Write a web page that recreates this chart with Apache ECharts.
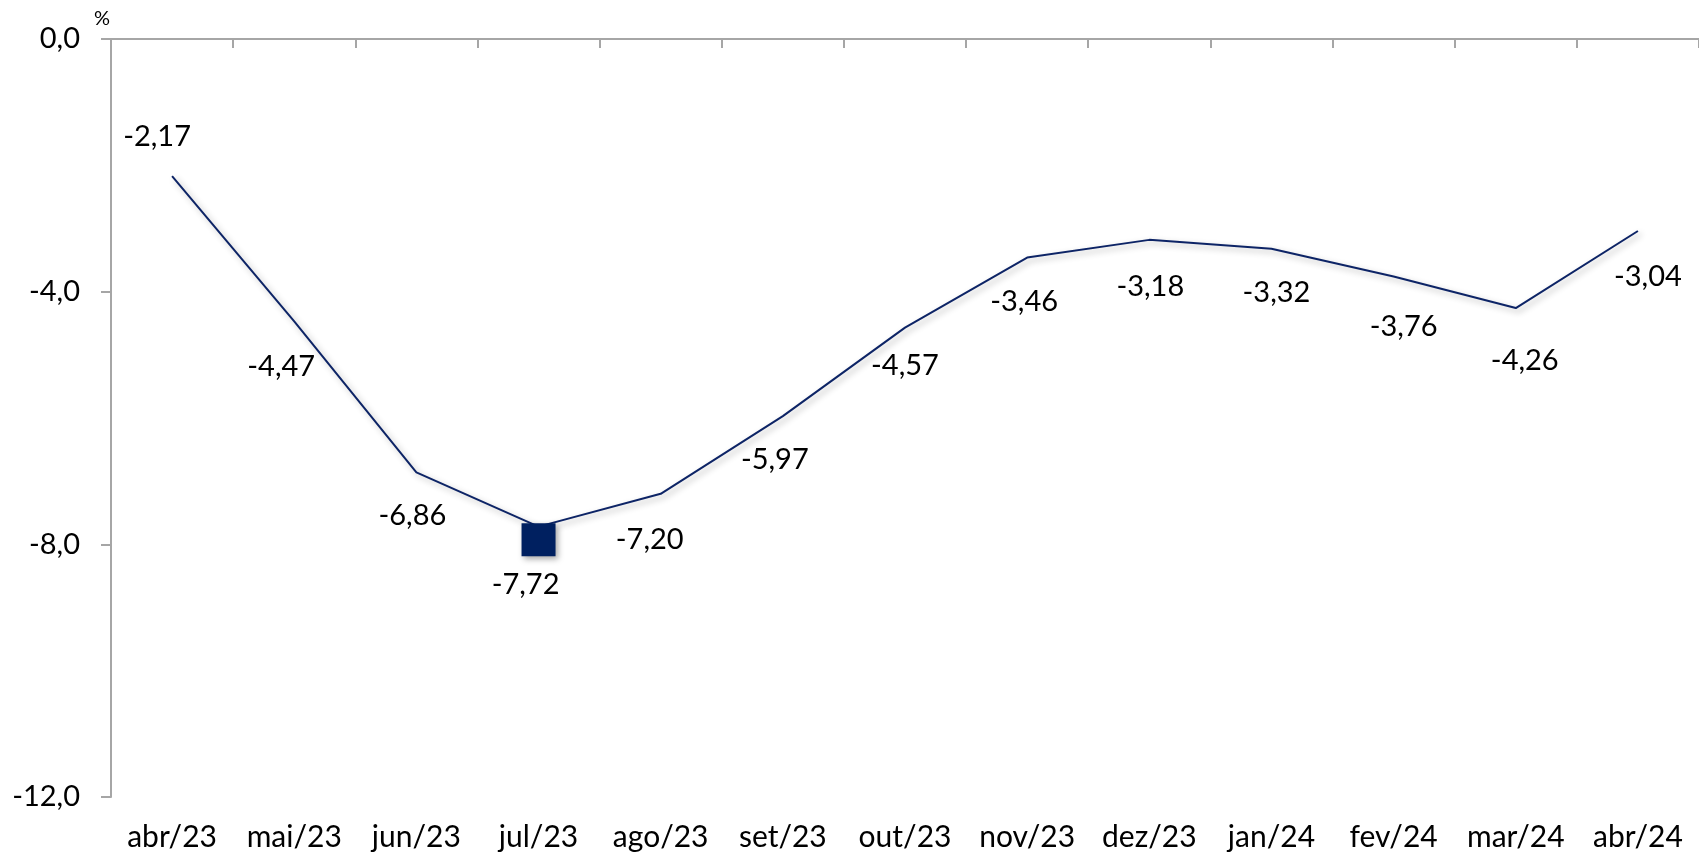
<!DOCTYPE html>
<html>
<head>
<meta charset="utf-8">
<script src="https://cdn.jsdelivr.net/npm/echarts@6/dist/echarts.min.js"></script>
<style>html,body{margin:0;padding:0;background:#fff;}#c{width:1699px;height:855px;}</style>
</head>
<body>
<div id="c"></div>
<script>
const categories = ['abr/23','mai/23','jun/23','jul/23','ago/23','set/23','out/23','nov/23','dez/23','jan/24','fev/24','mar/24','abr/24'];
const values = [-2.17,-4.47,-6.86,-7.72,-7.20,-5.97,-4.57,-3.46,-3.18,-3.32,-3.76,-4.26,-3.04];
const labelOffsets = [[-15,-39],[-13,45],[-4,43],[-13,45],[-11,46],[-8,44],[0,38],[-3,44],[1,47],[5,44],[10,50],[9,53],[10,46]];
const highlightIndex = 3;
const yTicks = [0,-4,-8,-12];

const FONT = "Lato, sans-serif";
const FS = 29;
const FSX = 30;
const fmt = v => v.toFixed(2).replace('.', ',');

const chart = echarts.init(document.getElementById('c'), null, {renderer: 'canvas'});
const data = values.map((v, i) => {
  const item = {
    value: v,
    label: {offset: labelOffsets[i]}
  };
  if (i === highlightIndex) {
    item.symbol = 'rect';
    item.symbolSize = [34, 33];
    item.symbolOffset = [0, 13];
    item.itemStyle = {color: '#002060', shadowBlur: 6, shadowColor: 'rgba(0,0,0,0.35)', shadowOffsetX: 2, shadowOffsetY: 3};
  }
  return item;
});

chart.setOption({
  animation: false,
  backgroundColor: '#ffffff',
  grid: {left: 111, top: 39, width: 1599, height: 758, containLabel: false},
  xAxis: [
    {
      type: 'category', data: categories, position: 'bottom', boundaryGap: true,
      axisLine: {show: false}, axisTick: {show: false},
      axisLabel: {show: true, margin: 25, color: '#000', fontSize: FSX, fontFamily: FONT, interval: 0},
      splitLine: {show: false}
    },
    {
      type: 'category', data: categories, position: 'top', boundaryGap: true,
      axisLine: {show: true, onZero: false, lineStyle: {color: '#a6a6a6', width: 2}},
      axisTick: {show: true, inside: true, length: 9, interval: 0, lineStyle: {color: '#a6a6a6', width: 2}},
      axisLabel: {show: false}, splitLine: {show: false}
    }
  ],
  yAxis: {
    type: 'value', min: -12, max: 0, interval: 4,
    name: '%', nameLocation: 'end', nameGap: 10,
    nameTextStyle: {color: '#000', fontSize: 20, fontFamily: FONT, padding: [0, 18, 0, 0]},
    axisLine: {show: true, onZero: false, lineStyle: {color: '#a6a6a6', width: 2}},
    axisTick: {show: true, inside: false, length: 10, lineStyle: {color: '#a6a6a6', width: 2}},
    axisLabel: {margin: 31, color: '#000', fontSize: FS, fontFamily: FONT,
      formatter: v => yTicks.includes(v) ? v.toFixed(1).replace('.', ',') : ''},
    splitLine: {show: false}
  },
  series: [{
    type: 'line',
    xAxisIndex: 0,
    data: data,
    symbol: 'circle',
    symbolSize: 1,
    showSymbol: true,
    itemStyle: {color: 'rgba(0,0,0,0)'},
    lineStyle: {color: '#0d2466', width: 2, shadowBlur: 6, shadowColor: 'rgba(0,0,0,0.3)', shadowOffsetX: 3, shadowOffsetY: 3},
    label: {show: true, position: 'inside', color: '#000', fontSize: FS, fontFamily: FONT, formatter: p => fmt(p.value)},
    emphasis: {disabled: true},
    z: 3
  }]
});
</script>
</body>
</html>
